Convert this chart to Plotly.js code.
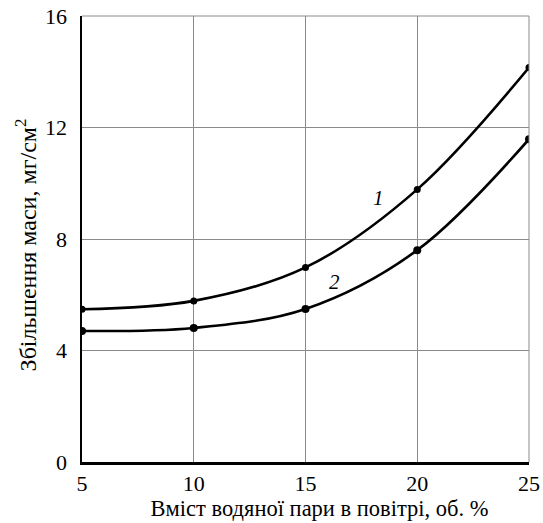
<!DOCTYPE html>
<html>
<head>
<meta charset="utf-8">
<script src="https://cdn.plot.ly/plotly-3.0.1.min.js"></script>
<style>html,body{margin:0;padding:0;background:#fff;}#chart{width:543px;height:523px;}</style>
</head>
<body>
<div id="chart"></div>
<script>
const waterVapour = [5, 10, 15, 20, 25];
const curve1 = [5.48, 5.78, 6.98, 9.78, 14.15];
const curve2 = [4.70, 4.81, 5.49, 7.60, 11.58];
const curveLabels = ['1', '2'];
const labelPos1 = {x: 18.26, y: 9.46};
const labelPos2 = {x: 16.29, y: 6.46};
const xTicks = [5, 10, 15, 20, 25];
const yTicks = [0, 4, 8, 12, 16];
const xTitle = 'Вміст водяної пари в повітрі, об. %';
const yTitle = 'Збільшення маси, мг/см<sup>2</sup>';

const font = '"Liberation Serif", "Times New Roman", serif';
const lineStyle = {color: '#000', width: 2.6, shape: 'spline', smoothing: 1};
const traces = [
  {x: waterVapour, y: curve1, mode: 'lines+markers', line: lineStyle,
   marker: {color: '#000', size: 7}, hoverinfo: 'skip'},
  {x: waterVapour, y: curve2, mode: 'lines+markers', line: lineStyle,
   marker: {color: '#000', size: 8}, hoverinfo: 'skip'}
];
const layout = {
  width: 543, height: 523,
  margin: {l: 82, r: 14, t: 16, b: 61},
  paper_bgcolor: '#fff', plot_bgcolor: '#fff',
  showlegend: false,
  font: {family: font, color: '#000', size: 18},
  xaxis: {
    range: [5, 25], tickvals: xTicks, ticktext: xTicks.map(String),
    showgrid: true, gridcolor: '#8a8a8a', gridwidth: 1,
    showline: true, linecolor: '#000', linewidth: 2.5, mirror: false,
    zeroline: false, ticks: '',
    tickfont: {family: font, size: 22, color: '#000'},
    title: {text: '&nbsp;&nbsp;&nbsp;&nbsp;&nbsp;' + xTitle, font: {family: font, size: 22.5, color: '#000'}, standoff: 4}
  },
  yaxis: {
    range: [0, 16], tickvals: yTicks, ticktext: yTicks.map(String),
    showgrid: true, gridcolor: '#8a8a8a', gridwidth: 1,
    showline: true, linecolor: '#000', linewidth: 2.5, mirror: false,
    zeroline: false, ticks: 'outside', ticklen: 8, tickcolor: 'rgba(0,0,0,0)',
    tickfont: {family: font, size: 22, color: '#000'},
    title: {text: yTitle + '&nbsp;&nbsp;', font: {family: font, size: 24, color: '#000'}, standoff: 2}
  },
  shapes: [
    {type: 'line', xref: 'paper', yref: 'paper', x0: 0, x1: 1, y0: 1, y1: 1, line: {color: '#8a8a8a', width: 1}},
    {type: 'line', xref: 'paper', yref: 'paper', x0: 1, x1: 1, y0: 0, y1: 1, line: {color: '#8a8a8a', width: 1}}
  ],
  annotations: [
    {x: labelPos1.x, y: labelPos1.y, text: '<i>' + curveLabels[0] + '</i>', showarrow: false, font: {family: font, size: 21, color: '#000'}},
    {x: labelPos2.x, y: labelPos2.y, text: '<i>' + curveLabels[1] + '</i>', showarrow: false, font: {family: font, size: 21, color: '#000'}}
  ]
};
Plotly.newPlot('chart', traces, layout, {staticPlot: true, displayModeBar: false});
</script>
</body>
</html>
